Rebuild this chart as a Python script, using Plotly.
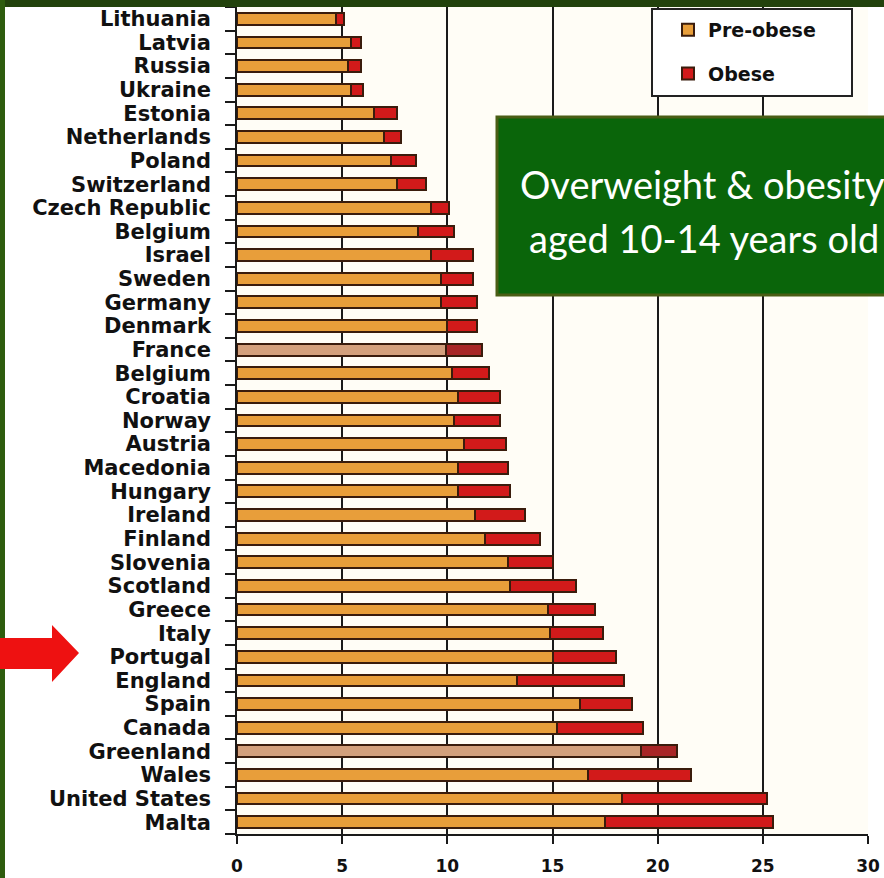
import plotly.graph_objects as go

# Overweight (pre-obese) and obese shares, children aged 10-14, by country
countries = [
    "Lithuania", "Latvia", "Russia", "Ukraine", "Estonia", "Netherlands",
    "Poland", "Switzerland", "Czech Republic", "Belgium", "Israel", "Sweden",
    "Germany", "Denmark", "France", "Belgium", "Croatia", "Norway", "Austria",
    "Macedonia", "Hungary", "Ireland", "Finland", "Slovenia", "Scotland",
    "Greece", "Italy", "Portugal", "England", "Spain", "Canada", "Greenland",
    "Wales", "United States", "Malta",
]
pre_obese = [
    4.7, 5.4, 5.3, 5.4, 6.5, 7.0, 7.3, 7.6, 9.2, 8.6, 9.2, 9.7, 9.7, 10.0,
    9.95, 10.2, 10.5, 10.3, 10.8, 10.5, 10.5, 11.3, 11.8, 12.9, 13.0, 14.8,
    14.9, 15.0, 13.3, 16.3, 15.2, 19.2, 16.7, 18.3, 17.5,
]
obese = [
    0.4, 0.5, 0.6, 0.6, 1.1, 0.8, 1.2, 1.4, 0.9, 1.7, 2.0, 1.5, 1.7, 1.4,
    1.7, 1.8, 2.0, 2.2, 2.0, 2.4, 2.5, 2.4, 2.6, 2.1, 3.1, 2.2, 2.5, 3.0,
    5.1, 2.5, 4.1, 1.7, 4.9, 6.9, 8.0,
]
x_ticks = [0, 5, 10, 15, 20, 25, 30]
pale_rows = ["France", "Greenland"]  # rows drawn with the paler palette

# canvas and plot-area geometry (pixels)
W, H = 884, 878
ML, MR, MT, MB = 237, 16, 7, 44
PW, PH = W - ML - MR, H - MT - MB


def fx(x):
    return (x - ML) / PW


def fy(y):
    return (H - MB - y) / PH


rows = list(range(len(countries)))
y_range = [len(countries) - 0.5, -0.5]
row_edges = [i + 0.5 for i in range(-1, len(countries))]

pre_colors = ["#D3A07C" if c in pale_rows else "#E89E3A" for c in countries]
obese_colors = ["#A82626" if c in pale_rows else "#D21A1A" for c in countries]
outline = dict(color="#3A1C0C", width=2)

bold = dict(family="DejaVu Sans", weight="bold", color="#111111")

fig = go.Figure()
fig.add_trace(go.Bar(
    x=pre_obese, y=rows, orientation="h", name="Pre-obese", width=0.5,
    marker=dict(color=pre_colors, line=outline), legendgroup="pre",
))
fig.add_trace(go.Bar(
    x=obese, y=rows, orientation="h", name="Obese", width=0.5,
    marker=dict(color=obese_colors, line=outline), legendgroup="obese",
))
# empty trace that carries the country-label axis
fig.add_trace(go.Scatter(
    x=[None], y=[None], yaxis="y2", mode="markers",
    showlegend=False, hoverinfo="skip",
))

shapes = [
    # frame bands
    dict(type="rect", xref="paper", yref="paper", x0=fx(0), x1=fx(W), y0=fy(7), y1=fy(0),
         fillcolor="#22420C", line_width=0, layer="above"),
    dict(type="rect", xref="paper", yref="paper", x0=fx(0), x1=fx(5), y0=fy(H), y1=fy(0),
         fillcolor="#2E5C0E", line_width=0, layer="above"),
    # legend panel
    dict(type="rect", xref="paper", yref="paper", x0=fx(652), x1=fx(852), y0=fy(96), y1=fy(9),
         fillcolor="white", line=dict(color="#222222", width=2), layer="above"),
    # title panel
    dict(type="rect", xref="paper", yref="paper", x0=fx(497), x1=fx(W + 20), y0=fy(295), y1=fy(117),
         fillcolor="#0A650A", line=dict(color="#4A5E14", width=3), layer="above"),
]

# pointer arrow next to Portugal
arrow_pts = [(0, 638), (52, 638), (52, 625), (79, 653), (52, 682), (52, 669), (0, 669)]
path = "M " + " L ".join(f"{fx(a):.5f},{fy(b):.5f}" for a, b in arrow_pts) + " Z"
shapes.append(dict(type="path", xref="paper", yref="paper", path=path,
                   fillcolor="#EE1111", line_width=0, layer="above"))

title_font = dict(family="Lato", size=38, color="white")
annotations = [
    dict(text="Overweight & obesity", xref="paper", yref="paper", x=fx(518), y=fy(184),
         xanchor="left", yanchor="middle", showarrow=False, font=title_font),
    dict(text="aged 10-14 years old", xref="paper", yref="paper", x=fx(527), y=fy(238),
         xanchor="left", yanchor="middle", showarrow=False, font=title_font),
]

fig.update_layout(
    width=W, height=H,
    margin=dict(l=ML, r=MR, t=MT, b=MB, pad=0),
    barmode="stack",
    paper_bgcolor="white",
    plot_bgcolor="#FFFDF6",
    showlegend=True,
    legend=dict(
        x=fx(668), y=fy(11), xanchor="left", yanchor="top",
        bgcolor="rgba(0,0,0,0)", borderwidth=0,
        font=dict(size=19, **bold), traceorder="grouped", tracegroupgap=16,
    ),
    xaxis=dict(
        range=[0, 30], tickmode="array", tickvals=x_ticks,
        showgrid=True, gridcolor="#1A1A1A", gridwidth=2, zeroline=False,
        showline=True, linecolor="#1A1A1A", linewidth=2,
        ticks="outside", ticklen=8, tickwidth=2, tickcolor="#1A1A1A",
        tickfont=dict(size=17, **bold), ticklabelstandoff=8, automargin=False,
    ),
    # data axis: tick marks on the row boundaries
    yaxis=dict(
        range=y_range, tickmode="array", tickvals=row_edges,
        showticklabels=False, ticks="outside", ticklen=10, tickwidth=2,
        tickcolor="#1A1A1A", showgrid=False, zeroline=False,
        showline=True, linecolor="#1A1A1A", linewidth=2, automargin=False,
    ),
    # country labels at the row centres
    yaxis2=dict(
        overlaying="y", side="left", anchor="x", range=y_range,
        tickmode="array", tickvals=rows, ticktext=countries, ticks="",
        tickfont=dict(size=21, **bold), ticklabelstandoff=25,
        showgrid=False, zeroline=False, showline=False, automargin=False,
    ),
    shapes=shapes,
    annotations=annotations,
)

fig.write_html("out.html")
